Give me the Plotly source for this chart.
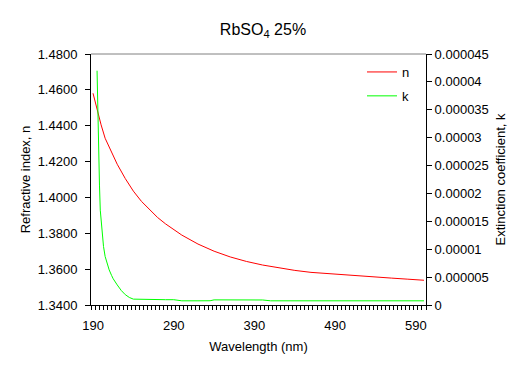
import plotly.graph_objects as go

# ---- data ----
wavelength_n = [190, 195, 200, 205, 210, 215, 220, 230, 240, 250, 260, 270, 280, 290, 300,
                320, 340, 360, 380, 400, 420, 440, 460, 480, 500, 520, 540, 560, 580, 600]
n_values = [1.4581, 1.4490, 1.4405, 1.4330, 1.4280, 1.4235, 1.4185, 1.4105, 1.4035, 1.3978,
            1.3930, 1.3888, 1.3852, 1.3820, 1.3790, 1.3740, 1.3700, 1.3668, 1.3643, 1.3623,
            1.3607, 1.3593, 1.3582, 1.3575, 1.3567, 1.3561, 1.3556, 1.3550, 1.3544, 1.3538]

wavelength_k = [195, 196, 197, 198, 199, 200, 201, 203, 205, 207, 210, 213, 215, 220, 225,
                230, 235, 240, 250, 260, 270, 280, 290, 300, 320, 335, 340, 360, 380, 400,
                410, 450, 500, 550, 600]
k_values = [4.20e-5, 3.25e-5, 2.65e-5, 2.15e-5, 1.70e-5, 1.50e-5, 1.34e-5, 1.05e-5, 0.87e-5,
            0.76e-5, 0.63e-5, 0.53e-5, 0.47e-5, 0.36e-5, 0.26e-5, 0.185e-5, 0.135e-5, 0.105e-5,
            0.100e-5, 0.100e-5, 0.095e-5, 0.095e-5, 0.095e-5, 0.075e-5, 0.075e-5, 0.076e-5,
            0.092e-5, 0.092e-5, 0.092e-5, 0.090e-5, 0.075e-5, 0.075e-5, 0.075e-5, 0.075e-5,
            0.075e-5]

x_tick_vals = [190, 290, 390, 490, 590]
x_minor_ticks = [187.5 + 5 * i for i in range(84)]
y_left_ticks = [1.34, 1.36, 1.38, 1.40, 1.42, 1.44, 1.46, 1.48]
y_right_ticks = [0, 0.000005, 0.00001, 0.000015, 0.00002, 0.000025, 0.00003, 0.000035, 0.00004, 0.000045]
y_right_text = ["0", "0.000005", "0.00001", "0.000015", "0.00002", "0.000025", "0.00003",
                "0.000035", "0.00004", "0.000045"]

FONT = "Arial, Liberation Sans, sans-serif"
W, H = 516, 367  # page body adds an 8px margin

fig = go.Figure()
fig.add_trace(go.Scatter(x=wavelength_n, y=n_values, mode="lines", name="n",
                         line=dict(color="#FF0000", width=1), legendgroup="n"))
fig.add_trace(go.Scatter(x=wavelength_k, y=k_values, mode="lines", name="k", yaxis="y2",
                         line=dict(color="#00FF00", width=1), legendgroup="k"))

fig.update_layout(
    width=W, height=H,
    margin=dict(l=83, r=98, t=46, b=70),
    paper_bgcolor="white", plot_bgcolor="white",
    font=dict(family=FONT, size=13, color="black"),
    title=dict(text="RbSO<sub>4</sub> 25%", x=(263 - 8) / W, xref="container", xanchor="center",
               y=1 - (29 - 8) / H, yref="container", yanchor="middle",
               font=dict(family=FONT, size=16, color="black")),
    xaxis=dict(range=[187.5, 602.5], tickvals=x_tick_vals, ticks="", showgrid=False,
               zeroline=False, showline=True, linecolor="black", linewidth=1,
               automargin=False, ticklabelstandoff=8,
               minor=dict(tickvals=x_minor_ticks, ticks="outside", ticklen=4,
                          tickcolor="black", showgrid=False),
               title=dict(text="Wavelength (nm)", standoff=10, font=dict(size=13)),
               tickfont=dict(size=13)),
    yaxis=dict(range=[1.34, 1.48], tickvals=y_left_ticks, tickformat=".4f",
               ticks="outside", ticklen=5, tickcolor="black", showgrid=False, zeroline=False,
               showline=True, linecolor="black", linewidth=1, automargin=False,
               ticklabelstandoff=5, tickfont=dict(size=13),
               title=dict(text="Refractive index, n", standoff=4, font=dict(size=13))),
    yaxis2=dict(range=[0, 0.000045], tickvals=y_right_ticks, ticktext=y_right_text,
                overlaying="y", side="right", ticks="outside", ticklen=5, tickcolor="black",
                showgrid=False, zeroline=False, showline=True, linecolor="black", linewidth=1,
                automargin=False, tickfont=dict(size=13),
                title=dict(text="Extinction coefficient, k", standoff=8, font=dict(size=13))),
    legend=dict(x=(362 - 91) / 335, y=1 - (57 - 54) / 251, xanchor="left", yanchor="top",
                bgcolor="rgba(0,0,0,0)", tracegroupgap=4, font=dict(size=13)),
    shapes=[dict(type="line", xref="paper", yref="paper", x0=0, x1=1, y0=1, y1=1,
                 line=dict(color="#808080", width=1))],
)

fig.write_html("out.html")
